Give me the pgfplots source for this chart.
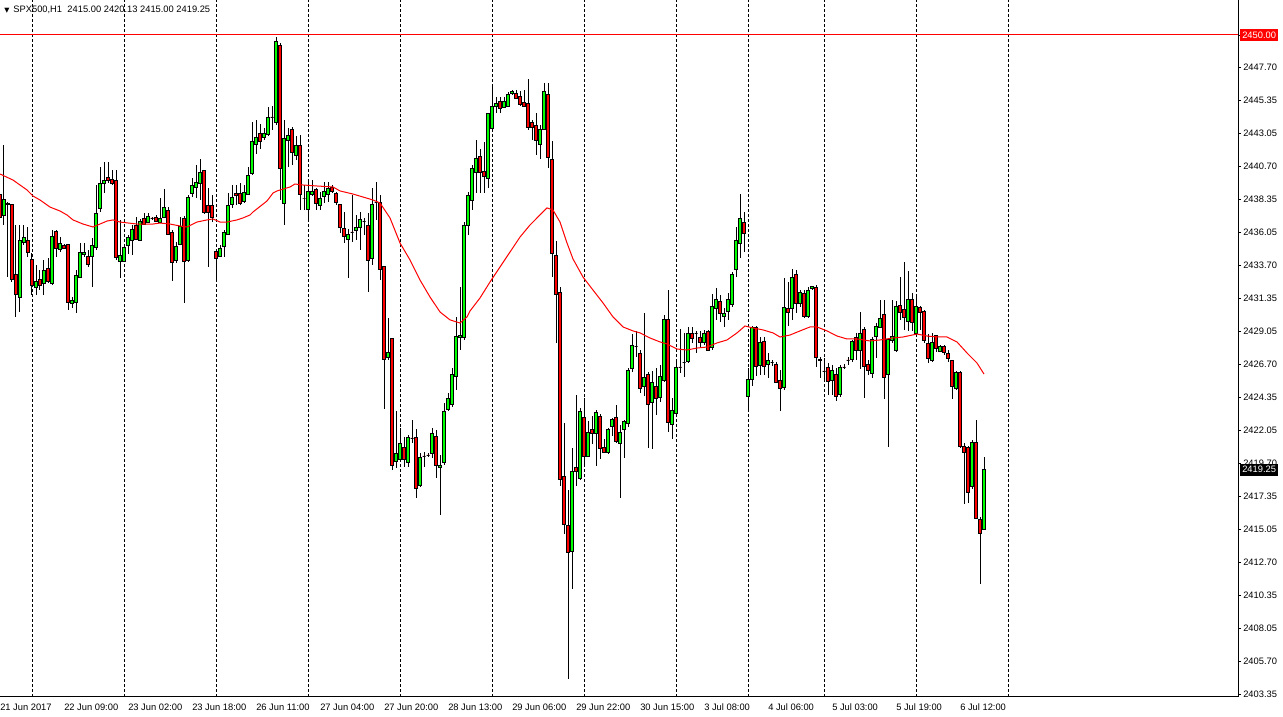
\documentclass[border=0pt]{standalone}
\usepackage{pgfplots}
\pgfplotsset{compat=1.18}
\usepackage{pgfplotstable}
\usepackage{fontspec}
\setmainfont{Liberation Sans}
\newfontfamily\symfont{DejaVu Sans}
\definecolor{bull}{RGB}{0,255,0}
\definecolor{bear}{RGB}{255,0,0}

% SPX500 H1 candles: x = bar position (4 per bar), open high low close
\pgfplotstableread{
x o h l c
0 2438.75 2439.04 2436.63 2437.13
4 2437.27 2442.22 2436.56 2438.40
8 2438.05 2438.19 2432.88 2438.12
12 2438.05 2438.05 2432.53 2432.74
16 2433.10 2436.56 2430.06 2431.68
20 2431.47 2436.56 2430.41 2435.50
24 2435.36 2436.56 2435.15 2435.71
28 2435.50 2436.42 2434.29 2434.65
32 2434.15 2434.58 2431.61 2432.32
36 2432.17 2433.74 2431.61 2432.60
40 2432.74 2433.38 2431.96 2432.32
44 2432.46 2434.09 2431.61 2433.38
48 2433.52 2434.22 2432.46 2432.60
52 2432.46 2436.21 2432.32 2435.78
56 2436.14 2436.21 2434.29 2434.94
60 2434.87 2435.71 2434.65 2435.29
64 2435.15 2435.22 2434.87 2434.94
68 2435.22 2435.22 2430.55 2431.12
72 2431.05 2431.47 2430.69 2431.26
76 2431.12 2433.38 2430.34 2433.03
80 2432.88 2435.29 2432.81 2434.65
84 2434.51 2435.29 2434.29 2434.65
88 2434.37 2434.79 2433.60 2433.74
92 2434.37 2435.64 2432.17 2435.15
96 2435.01 2439.39 2434.79 2437.41
100 2437.76 2440.66 2437.48 2439.53
104 2439.53 2441.01 2438.82 2439.74
108 2439.95 2441.01 2439.53 2439.74
112 2439.81 2440.45 2439.39 2439.53
116 2439.74 2440.45 2434.09 2434.29
120 2434.02 2436.92 2432.81 2434.44
124 2434.02 2435.15 2433.95 2435.01
128 2435.15 2435.85 2434.51 2435.71
132 2435.50 2436.56 2434.44 2436.28
136 2436.56 2437.13 2435.50 2435.57
140 2435.50 2436.99 2435.43 2436.84
144 2437.06 2437.41 2436.56 2436.63
148 2436.77 2437.41 2436.77 2437.20
152 2437.06 2437.13 2436.92 2437.06
156 2437.13 2437.27 2436.77 2436.84
160 2436.77 2438.47 2436.70 2437.06
164 2437.13 2439.11 2437.06 2437.83
168 2437.62 2437.83 2435.85 2435.92
172 2436.07 2436.21 2432.60 2433.95
176 2434.09 2435.36 2433.88 2435.08
180 2435.22 2437.13 2435.15 2436.49
184 2437.06 2437.20 2431.05 2434.02
188 2434.09 2438.68 2433.95 2438.54
192 2438.82 2439.88 2438.54 2439.39
196 2439.25 2440.80 2438.47 2439.60
200 2439.53 2441.22 2438.33 2440.31
204 2440.45 2440.45 2437.34 2437.48
208 2437.98 2439.18 2433.60 2437.48
212 2437.98 2438.68 2436.77 2437.13
216 2434.72 2434.72 2432.67 2434.22
220 2434.37 2435.15 2434.29 2434.94
224 2435.08 2436.21 2434.29 2436.07
228 2435.92 2438.82 2435.85 2437.98
232 2438.05 2439.39 2437.76 2438.54
236 2438.82 2439.39 2437.98 2438.68
240 2438.82 2439.53 2437.98 2438.12
244 2438.26 2439.39 2438.12 2438.89
248 2438.75 2440.66 2438.68 2440.09
252 2440.24 2443.84 2440.09 2442.44
256 2442.29 2443.99 2441.58 2442.79
260 2443.07 2443.70 2441.93 2442.44
264 2442.79 2443.42 2442.57 2443.07
268 2443.00 2444.90 2442.86 2444.20
272 2444.20 2444.97 2443.28 2444.20
276 2443.84 2449.85 2443.63 2449.57
280 2449.29 2449.43 2438.33 2440.59
284 2438.12 2443.99 2436.56 2442.72
288 2442.51 2443.42 2440.66 2442.93
292 2443.35 2443.49 2440.80 2441.72
296 2441.51 2442.86 2441.15 2442.22
300 2442.22 2442.93 2437.62 2438.75
304 2438.47 2439.39 2437.62 2438.47
308 2437.69 2439.74 2436.77 2438.97
312 2438.75 2439.74 2438.61 2438.97
316 2439.11 2439.18 2437.62 2438.12
320 2437.98 2438.89 2437.62 2438.47
324 2438.61 2439.60 2438.12 2438.97
328 2438.75 2439.60 2438.19 2439.18
332 2439.25 2439.39 2438.82 2438.97
336 2438.82 2438.89 2437.98 2438.19
340 2438.05 2438.05 2435.99 2436.42
344 2436.35 2437.48 2435.29 2435.78
348 2435.57 2436.28 2432.81 2435.92
352 2436.07 2438.68 2435.36 2436.07
356 2436.21 2437.27 2435.50 2436.42
360 2436.42 2437.48 2434.79 2436.99
364 2436.84 2437.06 2435.85 2436.84
368 2436.56 2437.41 2431.82 2434.09
372 2434.22 2439.18 2433.74 2438.05
376 2438.19 2439.60 2436.92 2438.19
380 2438.19 2438.68 2432.67 2433.45
384 2433.60 2433.60 2423.55 2427.09
388 2427.23 2429.99 2427.02 2427.58
392 2428.53 2428.53 2419.24 2419.59
396 2419.81 2423.41 2419.38 2420.44
400 2419.95 2422.21 2419.81 2421.08
404 2420.80 2421.57 2419.45 2419.95
408 2419.74 2421.71 2419.45 2421.57
412 2421.50 2422.77 2421.15 2421.50
416 2421.57 2422.14 2417.26 2417.96
420 2418.11 2420.44 2418.04 2420.09
424 2420.23 2420.51 2419.45 2420.23
428 2420.30 2420.44 2420.16 2420.30
432 2420.44 2422.21 2420.09 2421.85
436 2421.64 2422.07 2418.67 2419.59
440 2419.45 2420.30 2416.05 2419.59
444 2419.74 2423.98 2419.59 2423.41
448 2423.55 2424.69 2423.41 2424.33
452 2423.84 2426.45 2423.69 2425.96
456 2425.88 2430.06 2424.89 2428.68
460 2428.61 2432.17 2427.72 2428.75
464 2428.61 2436.77 2428.46 2436.56
468 2436.56 2438.89 2435.85 2438.68
472 2438.33 2440.80 2437.62 2440.59
476 2440.31 2442.57 2438.82 2441.29
480 2441.43 2441.93 2438.82 2440.31
484 2440.38 2442.44 2438.82 2440.02
488 2439.88 2444.48 2439.18 2444.48
492 2443.42 2446.46 2443.42 2444.97
496 2444.97 2445.61 2444.48 2445.19
500 2445.33 2445.61 2444.48 2444.83
504 2444.90 2445.61 2444.83 2445.33
508 2444.97 2445.96 2444.97 2445.82
512 2445.89 2446.11 2445.75 2446.03
516 2445.89 2446.11 2445.54 2445.54
520 2445.68 2446.03 2444.97 2445.12
524 2445.26 2446.11 2444.90 2444.97
528 2445.19 2446.88 2443.28 2443.49
532 2443.84 2443.99 2442.57 2443.49
536 2443.63 2444.48 2441.51 2442.51
540 2442.29 2443.63 2441.22 2443.35
544 2443.35 2446.60 2443.35 2446.03
548 2445.82 2446.60 2440.59 2441.36
552 2441.22 2442.51 2432.88 2434.58
556 2434.44 2435.43 2428.24 2431.68
560 2431.82 2432.17 2418.11 2418.60
564 2418.81 2422.56 2414.71 2415.41
568 2415.34 2417.82 2404.45 2413.43
572 2413.50 2420.80 2410.82 2419.17
576 2419.45 2424.54 2418.11 2419.17
580 2418.67 2423.62 2418.53 2423.41
584 2422.92 2424.33 2419.52 2420.23
588 2420.23 2422.70 2420.16 2421.92
592 2422.07 2423.06 2421.08 2421.85
596 2421.85 2423.48 2419.52 2423.34
600 2423.06 2423.20 2420.02 2420.73
604 2420.80 2421.43 2420.44 2420.51
608 2420.51 2422.21 2420.37 2422.07
612 2422.35 2422.92 2421.64 2422.84
616 2422.92 2423.84 2421.15 2421.29
620 2421.15 2422.42 2417.26 2421.92
624 2422.07 2422.77 2420.09 2422.70
628 2422.56 2426.45 2422.28 2426.31
632 2426.45 2428.90 2426.17 2428.08
636 2427.94 2429.04 2427.23 2427.94
640 2427.51 2427.72 2424.69 2424.97
644 2425.18 2430.34 2424.47 2425.81
648 2425.96 2426.17 2420.80 2423.84
652 2423.98 2426.24 2420.73 2425.46
656 2425.18 2426.45 2423.13 2424.33
660 2424.40 2426.66 2424.05 2425.88
664 2425.60 2430.20 2425.46 2429.92
668 2429.85 2431.96 2421.92 2422.63
672 2422.49 2424.33 2421.43 2423.48
676 2423.27 2426.88 2423.13 2426.52
680 2426.52 2429.21 2426.10 2426.52
684 2426.81 2428.93 2425.81 2426.81
688 2426.88 2429.35 2426.81 2428.90
692 2428.93 2429.35 2428.24 2428.53
696 2428.90 2429.04 2427.51 2428.90
700 2428.61 2429.04 2427.87 2428.24
704 2428.24 2429.14 2428.08 2428.93
708 2429.04 2429.14 2427.65 2427.72
712 2427.87 2431.68 2427.72 2430.83
716 2430.69 2432.10 2429.85 2431.33
720 2431.19 2431.61 2429.70 2430.34
724 2430.13 2430.69 2429.35 2430.34
728 2430.48 2431.75 2429.85 2431.33
732 2430.98 2433.24 2430.76 2433.10
736 2433.45 2436.42 2432.88 2435.50
740 2435.29 2438.75 2434.22 2437.06
744 2436.77 2437.48 2434.65 2435.99
748 2424.47 2426.45 2423.34 2425.67
752 2425.67 2429.42 2425.18 2429.35
756 2429.35 2429.42 2425.88 2426.59
760 2426.66 2428.61 2425.96 2428.24
764 2428.31 2428.61 2425.96 2426.59
768 2426.73 2427.51 2425.74 2427.02
772 2426.81 2427.02 2426.59 2426.81
776 2426.73 2426.88 2425.39 2425.46
780 2425.60 2426.31 2423.41 2424.97
784 2425.11 2432.81 2424.89 2430.76
788 2430.69 2432.53 2429.42 2430.41
792 2430.69 2433.45 2429.85 2432.88
796 2433.10 2433.38 2430.34 2431.05
800 2431.05 2431.96 2430.76 2431.82
804 2431.75 2431.96 2429.99 2430.13
808 2430.13 2432.17 2429.99 2431.96
812 2432.10 2432.24 2431.96 2432.24
816 2432.17 2432.32 2426.52 2427.23
820 2427.09 2427.23 2425.74 2426.95
824 2426.24 2427.16 2425.60 2426.24
828 2426.52 2426.81 2424.54 2425.53
832 2425.60 2426.66 2424.54 2426.31
836 2426.03 2426.45 2424.12 2424.47
840 2424.61 2426.66 2424.40 2426.52
844 2426.52 2426.73 2426.38 2426.52
848 2427.02 2427.23 2426.66 2427.02
852 2427.09 2428.46 2426.88 2428.31
856 2428.61 2428.93 2427.02 2427.72
860 2427.72 2430.41 2426.38 2428.93
864 2429.21 2429.35 2424.33 2426.59
868 2426.73 2427.02 2425.96 2426.31
872 2426.10 2428.61 2425.74 2428.46
876 2428.68 2429.63 2427.16 2429.42
880 2429.35 2431.26 2429.28 2429.99
884 2430.27 2431.26 2424.26 2425.81
888 2425.96 2428.61 2420.87 2428.46
892 2428.39 2431.26 2428.24 2428.68
896 2427.72 2431.19 2427.58 2430.83
900 2430.90 2432.88 2429.85 2430.41
904 2430.62 2433.95 2429.14 2430.06
908 2429.77 2433.31 2429.04 2431.33
912 2431.33 2431.75 2429.04 2429.70
916 2428.93 2431.61 2428.68 2430.83
920 2430.76 2430.83 2429.14 2430.41
924 2430.48 2430.55 2428.24 2428.39
928 2428.17 2428.83 2426.81 2427.16
932 2426.95 2428.93 2426.88 2428.24
936 2428.75 2428.83 2427.58 2427.80
940 2427.65 2428.08 2427.58 2427.94
944 2428.01 2428.08 2427.37 2427.58
948 2427.51 2427.72 2426.88 2427.16
952 2427.02 2427.02 2424.26 2425.18
956 2425.04 2426.24 2424.89 2426.17
960 2426.17 2426.24 2420.80 2420.87
964 2420.87 2421.15 2416.83 2420.51
968 2420.80 2420.94 2416.90 2417.68
972 2418.04 2421.36 2417.89 2421.22
976 2421.22 2422.77 2415.77 2415.84
980 2415.77 2415.91 2411.17 2414.78
984 2415.00 2420.13 2415.00 2419.25
}\candles

% moving average (red line)
\pgfplotstableread{
x ma
0 2440.17
13 2439.74
20 2439.39
27 2439.04
33 2438.61
40 2438.33
50 2437.83
60 2437.55
67 2437.27
73 2436.92
83 2436.63
93 2436.42
100 2436.63
107 2436.84
113 2436.92
120 2436.77
137 2436.63
153 2436.63
160 2436.70
170 2436.63
180 2436.49
187 2436.42
197 2436.77
207 2436.92
213 2436.99
220 2436.77
227 2436.77
237 2436.92
243 2437.06
250 2437.27
253 2437.48
267 2438.26
273 2438.82
277 2438.97
290 2439.25
295 2439.46
303 2439.39
317 2439.32
333 2439.25
340 2438.97
353 2438.75
363 2438.54
373 2438.33
380 2438.12
390 2437.06
400 2435.29
410 2434.09
420 2432.67
430 2431.47
440 2430.41
450 2429.85
460 2429.63
467 2430.06
470 2430.48
480 2431.40
490 2432.53
500 2433.59
510 2434.65
520 2435.71
530 2436.56
537 2437.06
547 2437.77
553 2437.62
560 2436.77
567 2435.29
573 2434.16
583 2432.88
593 2431.96
603 2431.05
613 2430.06
623 2429.35
633 2429.07
640 2428.93
650 2428.57
660 2428.29
667 2428.15
677 2427.79
687 2427.72
697 2427.86
707 2427.93
717 2428.22
727 2428.43
737 2428.93
745 2429.42
753 2429.28
763 2429.14
773 2428.93
780 2428.64
790 2428.78
800 2429.07
810 2429.35
817 2429.35
827 2429.07
837 2428.71
847 2428.50
857 2428.50
870 2428.36
880 2428.43
893 2428.57
903 2428.64
917 2428.85
927 2428.71
937 2428.64
947 2428.64
957 2428.29
967 2427.51
977 2426.80
984 2426.02
}\matable

\pgfplotstablegetrowsof{\candles}
\pgfmathtruncatemacro\lastrow{\pgfplotsretval-1}

\tikzset{lbl/.style={font=\fontsize{7}{8.4}\selectfont}}

\begin{document}
\begin{tikzpicture}
\pgfplotsset{
  chart/.style={
    scale only axis, width=928.5pt, height=522.75pt,
    xmin=0, xmax=1238, ymin=2403.18, ymax=2452.475,
  },
}
\begin{axis}[chart,
  axis line style={black, line width=0.75pt},
  xtick pos=bottom, ytick pos=right, yticklabel pos=right,
  ytick={2447.70,2445.35,2443.05,2440.70,2438.35,2436.05,2433.70,2431.35,2429.05,2426.70,2424.35,2422.05,2419.70,2417.35,2415.05,2412.70,2410.35,2408.05,2405.70,2403.35},
  yticklabels={2447.70,2445.35,2443.05,2440.70,2438.35,2436.05,2433.70,2431.35,2429.05,2426.70,2424.35,2422.05,2419.70,2417.35,2415.05,2412.70,2410.35,2408.05,2405.70,2403.35},
  tick align=outside, major tick length=2.25pt,
  ytick style={black, line width=0.6pt},
  xtick={0,64,128,192,256,320,384,448,512,576,640,704,768,832,896,960},
  xticklabels={21 Jun 2017,22 Jun 09:00,23 Jun 02:00,23 Jun 18:00,26 Jun 11:00,27 Jun 04:00,27 Jun 20:00,28 Jun 13:00,29 Jun 06:00,29 Jun 22:00,30 Jun 15:00,3 Jul 08:00,4 Jul 06:00,5 Jul 03:00,5 Jul 19:00,6 Jul 12:00},
  xtick style={draw=none},
  xticklabel style={lbl, anchor=north west, inner sep=0pt, yshift=-2.5pt},
  yticklabel style={lbl, anchor=west, inner sep=0pt, xshift=1.5pt},
  extra x ticks={33,124,216,308,400,492,584,676,748,824,916,1008},
  extra x tick labels={},
  extra x tick style={grid=major, major grid style={black, line width=0.75pt, dash pattern=on 2.25pt off 1.5pt}},
  extra y ticks={2450},
  extra y tick labels={},
  extra y tick style={grid=major, major grid style={red, line width=0.75pt}},
]
% wicks from low to high
\addplot[forget plot, draw=none, mark=none,
  error bars/.cd, y dir=both, y explicit, error mark=none,
  error bar style={draw=black, solid, line width=0.75pt}]
  table[x=x, y expr={(\thisrow{h}+\thisrow{l})/2}, y error expr={(\thisrow{h}-\thisrow{l})/2}] {\candles};
% bodies, one rectangle per candle
\pgfplotsforeachungrouped \i in {0,...,\lastrow}{%
  \pgfplotstablegetelem{\i}{x}\of\candles \let\cx\pgfplotsretval
  \pgfplotstablegetelem{\i}{o}\of\candles \let\co\pgfplotsretval
  \pgfplotstablegetelem{\i}{c}\of\candles \let\cc\pgfplotsretval
  \pgfmathsetmacro\xl{\cx-1.5}%
  \pgfmathsetmacro\xr{\cx+1.5}%
  \ifdim\cc pt>\co pt \def\bodycol{bull}\else\def\bodycol{bear}\fi
  \edef\temp{\noexpand\addplot[forget plot, fill=\bodycol, draw=black, line width=0.6pt]
    coordinates {(\xl,\co) (\xr,\co) (\xr,\cc) (\xl,\cc)} --cycle;}%
  \temp
}
\end{axis}

\begin{axis}[chart, hide axis, clip=false]
\addplot[red, line width=0.75pt, mark=none] table[x=x, y=ma] {\matable};
\node[lbl, fill=red, text=white, anchor=west, inner xsep=1.8pt, inner ysep=0pt, minimum height=9pt] at (axis cs:1238,2450) [xshift=1.2pt] {2450.00};
\node[lbl, fill=black, text=white, anchor=west, inner xsep=1.8pt, inner ysep=0pt, minimum height=9pt] at (axis cs:1238,2419.25) [xshift=1.2pt] {2419.25};
\node[lbl, anchor=west, inner sep=0pt] at (rel axis cs:0,1) [xshift=3pt, yshift=-7.5pt] {{\symfont\fontsize{5}{6}\selectfont ▼}\hspace{3pt}SPX500,H1\hspace{4pt}2415.00 2420.13 2415.00 2419.25};
\end{axis}
\pgfresetboundingbox
\useasboundingbox (0,-15pt) rectangle (962.25pt,522.75pt);
\end{tikzpicture}
\end{document}
